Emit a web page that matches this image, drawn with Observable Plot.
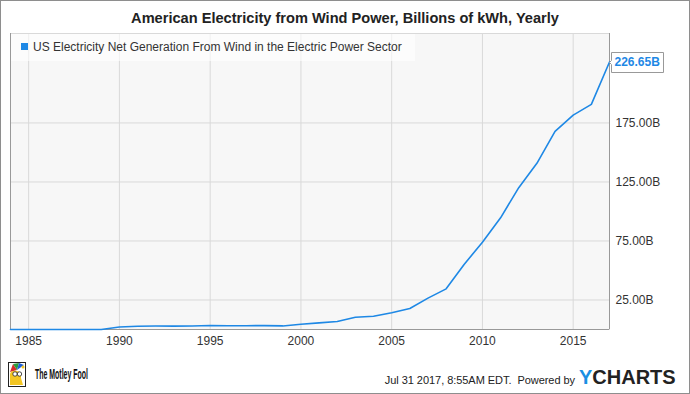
<!DOCTYPE html>
<html>
<head>
<meta charset="utf-8">
<script src="https://cdn.jsdelivr.net/npm/d3@7"></script>
<script src="https://cdn.jsdelivr.net/npm/@observablehq/plot@0.6"></script>
<style>
  body { margin: 0; background: #fff; font-family: "Liberation Sans", Arial, sans-serif; }
  #wrap { position: relative; width: 690px; height: 394px; overflow: hidden; background: #fff; }
  #chart { position: absolute; left: 0; top: 0; }
  #chart g[aria-label="tip"] text { fill: #1e88e5; }
  .abs { position: absolute; white-space: nowrap; }
</style>
</head>
<body>
<div id="wrap">
  <div id="chart"></div>
  <div class="abs" id="title" style="left:0;top:9px;width:690px;text-align:center;font-weight:bold;font-size:14.6px;line-height:18px;color:#222;"></div>
  <div class="abs" id="legend" style="left:11px;top:34px;width:404px;height:27px;background:rgba(255,255,255,0.6);">
    <div class="abs" id="legsq" style="left:10px;top:9px;width:7px;height:7px;"></div>
    <div class="abs" id="legtxt" style="left:22px;top:6px;font-size:12px;line-height:14px;color:#333;"></div>
  </div>
  <svg class="abs" style="left:0;top:350px" width="140" height="44">
    <rect x="8.5" y="12.5" width="17" height="24" fill="#fff" stroke="#222"/>
    <path d="M10 22 L13 14 L17 20 Z" fill="#d62b2b"/>
    <path d="M13 14 L19 13 L17 20 Z" fill="#2a9d3b"/>
    <path d="M17 20 L19 13 L24 15 Z" fill="#1e5fd8"/>
    <path d="M10 24 Q11 20 17 21 Q22 22 21 28 L23 35 L10 35 Z" fill="#f3c623"/>
    <circle cx="15" cy="24" r="2.2" fill="#fff" stroke="#222" stroke-width="0.8"/>
    <circle cx="19.5" cy="24" r="2.2" fill="#fff" stroke="#222" stroke-width="0.8"/>
    <circle cx="23" cy="17" r="1.5" fill="#f3c623"/>
    <text x="35" y="29" font-family="Liberation Sans, Arial" font-weight="bold" font-size="14" fill="#111" textLength="53" lengthAdjust="spacingAndGlyphs">The Motley Fool</text>
  </svg>
  <div class="abs" id="stamp" style="right:115px;top:374px;font-size:11px;line-height:13px;color:#222;letter-spacing:-0.05px;"></div>
  <div class="abs" id="yc" style="left:579px;top:367px;font-size:20px;line-height:20px;font-weight:bold;color:#222;"><span style="color:#1a8fe3">Y</span>CHARTS</div>
  <div class="abs" style="left:0;top:0;width:690px;height:394px;box-sizing:border-box;border:1px solid #8e8e8e;pointer-events:none;"></div>
</div>
<script>
// ---- data (plotted year positions as shown on the chart) ----
const years = [1984,1985,1986,1987,1988,1989,1990,1991,1992,1993,1994,1995,1996,1997,1998,1999,2000,2001,2002,2003,2004,2005,2006,2007,2008,2009,2010,2011,2012,2013,2014,2015,2016,2017];
const values = [0,0,0,0,0,0,2.11,2.79,2.95,2.89,3.01,3.45,3.16,3.23,3.29,3.03,4.49,5.59,6.74,10.35,11.19,14.14,17.81,26.59,34.45,55.36,73.89,94.65,120.18,140.82,167.84,181.65,190.72,226.65];
const xTicks = [1985,1990,1995,2000,2005,2010,2015];
const yTicks = [25,75,125,175];
const xDomain = [1984, 2017];
const yDomain = [0, 250.8];
const titleText = "American Electricity from Wind Power, Billions of kWh, Yearly";
const seriesName = "US Electricity Net Generation From Wind in the Electric Power Sector";
const stampText = "Jul 31 2017, 8:55AM EDT.\u00a0\u00a0Powered by";
const lineColor = "#1e88e5";

const data = years.map((y, i) => ({year: y, value: values[i]}));
const last = [data[data.length - 1]];

document.getElementById("title").textContent = titleText;
document.getElementById("legtxt").textContent = seriesName;
document.getElementById("legsq").style.background = lineColor;
document.getElementById("stamp").textContent = stampText;

const chart = Plot.plot({
  width: 690,
  height: 394,
  marginLeft: 10,
  marginRight: 81,
  marginTop: 33,
  marginBottom: 65,
  x: {domain: xDomain},
  y: {domain: yDomain},
  style: {background: "transparent", fontFamily: "Liberation Sans, Arial, sans-serif", fontSize: "12px", color: "#333"},
  marks: [
    Plot.frame({fill: "#f7f7f7", stroke: "#d9d9d9"}),
    Plot.gridX(xTicks, {stroke: "#d9d9d9", strokeOpacity: 1}),
    Plot.gridY(yTicks, {stroke: "#d9d9d9", strokeOpacity: 1}),
    Plot.ruleX(xDomain, {stroke: "#999"}),
    Plot.ruleY([yDomain[0]], {stroke: "#999"}),
    Plot.axisX({ticks: xTicks, tickFormat: d => String(d), tickSize: 0, tickPadding: 7, label: null, fill: "#333"}),
    Plot.axisY({anchor: "right", ticks: yTicks, tickFormat: d => d.toFixed(2) + "B", tickSize: 0, tickPadding: 6, label: null, fill: "#333"}),
    Plot.line(data, {x: "year", y: "value", stroke: lineColor, strokeWidth: 1.6}),
    Plot.tip(last, {x: "year", y: "value", title: d => d.value.toFixed(2) + "B", anchor: "left",
      pointerSize: 4, textPadding: 3, fontSize: 12, fontWeight: "bold", fill: "white", stroke: "#999", pathFilter: "none"})
  ]
});
document.getElementById("chart").appendChild(chart);
</script>
</body>
</html>
